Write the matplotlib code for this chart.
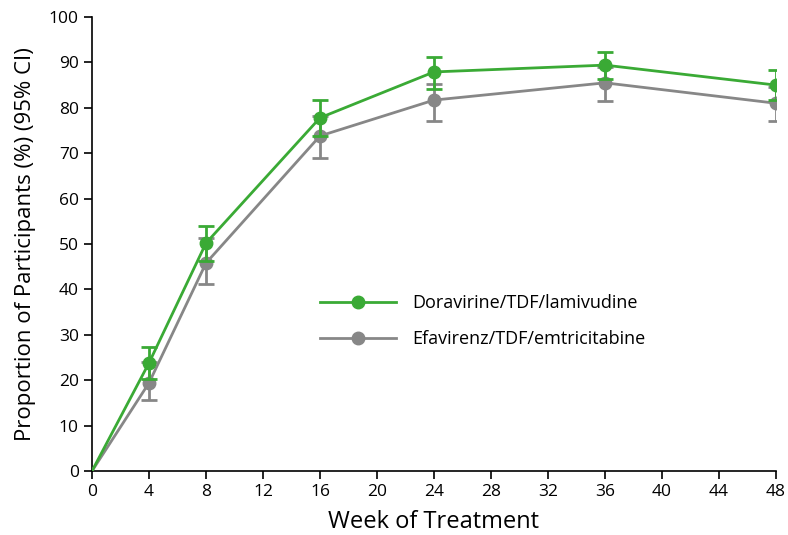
import matplotlib.pyplot as plt

weeks = [0, 4, 8, 16, 24, 36, 48]

dora = [0, 23.8, 50.2, 77.8, 87.9, 89.4, 85.0]
dora_lo = [0, 20.3, 46.3, 73.8, 84.1, 86.3, 81.7]
dora_hi = [0, 27.3, 54.0, 81.7, 91.2, 92.3, 88.3]

efv = [0, 19.4, 45.8, 73.8, 81.7, 85.5, 81.0]
efv_lo = [0, 15.6, 41.2, 69.0, 77.1, 81.5, 77.0]
efv_hi = [0, 23.9, 51.3, 78.2, 85.2, 88.9, 84.6]

green = '#3aaa35'
gray = '#878787'

plt.rcParams['font.family'] = ['Open Sans', 'DejaVu Sans']

fig = plt.figure(figsize=(7.88, 5.35), dpi=100)
ax = fig.add_axes([92 / 788, 64 / 535, (776 - 92) / 788, (471 - 17) / 535])

def draw(vals, lo, hi, color, label, z):
    yerr = [[v - l for v, l in zip(vals, lo)], [h - v for v, h in zip(vals, hi)]]
    ax.errorbar(weeks[1:], vals[1:], yerr=[yerr[0][1:], yerr[1][1:]], fmt='none',
                ecolor=color, elinewidth=2, capsize=6, capthick=2, zorder=z)
    ax.plot(weeks, vals, color=color, lw=2, zorder=z + 1, label=label,
            marker='o', markersize=9, markevery=list(range(1, len(weeks))))

draw(efv, efv_lo, efv_hi, gray, 'Efavirenz/TDF/emtricitabine', 2)
draw(dora, dora_lo, dora_hi, green, 'Doravirine/TDF/lamivudine', 4)

ax.set_xlim(0, 48)
ax.set_ylim(0, 100)
ax.set_xticks(range(0, 49, 4))
ax.set_yticks(range(0, 101, 10))
ax.spines['top'].set_visible(False)
ax.spines['right'].set_visible(False)
ax.tick_params(direction='out', length=6, width=1.2, labelsize=12.5)
for s in ['left', 'bottom']:
    ax.spines[s].set_linewidth(1.2)

ax.set_xlabel('Week of Treatment', fontsize=17, labelpad=7)
ax.set_ylabel('Proportion of Participants (%) (95% CI)', fontsize=16, labelpad=9)

h, l = ax.get_legend_handles_labels()
ax.legend(h[::-1], l[::-1], loc='center left', bbox_to_anchor=(0.31, 0.33), frameon=False,
          fontsize=13, handlelength=4.2, labelspacing=1.0, handletextpad=0.9)

fig.savefig('out.png', dpi=100)
